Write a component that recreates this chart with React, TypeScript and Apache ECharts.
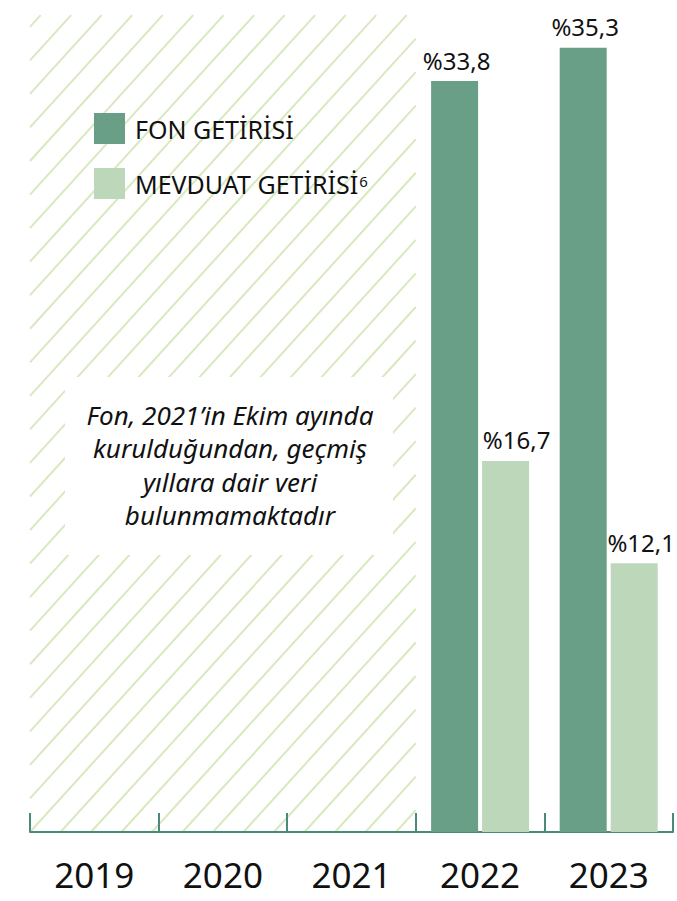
import React, { useEffect, useRef } from "react";
import * as echarts from "echarts";

const YEARS = ["2019", "2020", "2021", "2022", "2023"];
const FON_NAME = "FON GETİRİSİ";
const MEV_NAME = "MEVDUAT GETİRİSİ";
const FON = [null, null, null, 33.8, 35.3];
const MEV = [null, null, null, 16.7, 12.1];
const NOTE_LINES = [
  "Fon, 2021’in Ekim ayında",
  "kurulduğundan, geçmiş",
  "yıllara dair veri",
  "bulunmamaktadır",
];
// hatched "no data" band: categories 0..2, up to this value
const HATCH_RANGE = [0, 2];
const HATCH_TOP = 36.77;
const Y_MAX = 37.45;

const FONT = "'Noto Sans', 'Open Sans', sans-serif";
const C_FON = "#6a9f87";
const C_MEV = "#bdd7bb";
const C_AXIS = "#4b8a7a";
const C_HATCH = "#d7e9be";

export default function App() {
  const ref = useRef<HTMLDivElement>(null);

  useEffect(() => {
    if (!ref.current) return;
    const chart = echarts.init(ref.current, null, { renderer: "svg" });

    const fmt = (p: any) =>
      p.value == null ? "" : "%" + String(p.value).replace(".", ",");

    // last category's light-bar label sits at the right edge: keep it inside
    const mevData = MEV.map((v, i) =>
      i === MEV.length - 1 && v != null
        ? { value: v, label: { offset: [7, 0] } }
        : v
    );

    const option: any = {
      animation: false,
      backgroundColor: "#ffffff",
      grid: { left: 30, right: 4, top: 0, bottom: 69, containLabel: false },
      legend: {
        orient: "vertical",
        left: 94,
        top: 113,
        padding: 0,
        itemWidth: 31,
        itemHeight: 31,
        itemGap: 24,
        icon: "rect",
        data: [FON_NAME, MEV_NAME],
        selectedMode: false,
        formatter: (name: string) =>
          name === MEV_NAME ? `{a|${name}}{sup|6}` : `{a|${name}}`,
        textStyle: {
          rich: {
            a: {
              fontFamily: FONT,
              fontSize: 25,
              color: "#111",
              padding: [0, 0, 0, 5],
            },
            sup: {
              fontFamily: FONT,
              fontSize: 15,
              color: "#111",
              verticalAlign: "top",
              padding: [2, 0, 0, 1],
            },
          },
        },
      },
      xAxis: {
        type: "category",
        data: YEARS,
        boundaryGap: true,
        axisLine: { show: true, lineStyle: { color: C_AXIS, width: 2 } },
        axisTick: {
          show: true,
          inside: true,
          length: 19,
          alignWithLabel: false,
          lineStyle: { color: C_AXIS, width: 2 },
        },
        axisLabel: {
          fontFamily: FONT,
          fontSize: 35,
          color: "#111",
          margin: 25,
        },
        splitLine: { show: false },
      },
      yAxis: {
        type: "value",
        min: 0,
        max: Y_MAX,
        show: false,
        splitLine: { show: false },
      },
      series: [
        {
          type: "custom",
          name: "hatch",
          z: 0,
          silent: true,
          data: [[HATCH_RANGE[0], HATCH_RANGE[1], HATCH_TOP]],
          encode: { x: [0, 1], y: 2 },
          renderItem: (params: any, api: any) => {
            const catW = api.size([1, 0])[0];
            const L = api.coord([api.value(0), 0])[0] - catW / 2;
            const R = api.coord([api.value(1), 0])[0] + catW / 2;
            const B = api.coord([0, 0])[1];
            const T = api.coord([0, api.value(2)])[1];
            const t = 1.1; // slope (tan of angle)
            const S = 30.5; // horizontal spacing
            const children: any[] = [];
            const kMin = Math.floor(-(B - T) / (t * S)) - 1;
            const kMax = Math.ceil((R - L) / S) + 1;
            for (let k = kMin; k <= kMax; k++) {
              const c = L + k * S + B / t;
              const y1 = Math.max(T, (c - R) * t);
              const y2 = Math.min(B, (c - L) * t);
              if (y1 >= y2) continue;
              children.push({
                type: "line",
                shape: { x1: c - y1 / t, y1, x2: c - y2 / t, y2 },
                style: { stroke: C_HATCH, lineWidth: 2 },
              });
            }
            return { type: "group", children };
          },
        },
        {
          type: "bar",
          name: FON_NAME,
          data: FON,
          barWidth: 47,
          barGap: "8.5%",
          itemStyle: { color: C_FON },
          label: {
            show: true,
            position: "top",
            distance: 9,
            offset: [2, 0],
            fontFamily: FONT,
            fontSize: 24,
            color: "#111",
            formatter: fmt,
          },
        },
        {
          type: "bar",
          name: MEV_NAME,
          data: mevData,
          barWidth: 47,
          barGap: "8.5%",
          itemStyle: { color: C_MEV },
          label: {
            show: true,
            position: "top",
            distance: 9,
            offset: [11, 0],
            fontFamily: FONT,
            fontSize: 24,
            color: "#111",
            formatter: fmt,
          },
        },
      ],
      graphic: [
        {
          type: "rect",
          z: 100,
          shape: { x: 65, y: 377, width: 328, height: 178 },
          style: { fill: "#ffffff" },
          silent: true,
        },
        {
          type: "text",
          z: 101,
          x: 230,
          y: 465,
          style: {
            text: NOTE_LINES.join("\n"),
            fontFamily: FONT,
            fontStyle: "italic",
            fontSize: 26,
            lineHeight: 33.5,
            fill: "#111",
            align: "center",
            verticalAlign: "middle",
          },
        },
      ],
    };

    chart.setOption(option);
    return () => chart.dispose();
  }, []);

  return (
    <div
      ref={ref}
      style={{
        position: "fixed",
        left: 0,
        top: 0,
        width: 677,
        height: 901,
      }}
    />
  );
}
